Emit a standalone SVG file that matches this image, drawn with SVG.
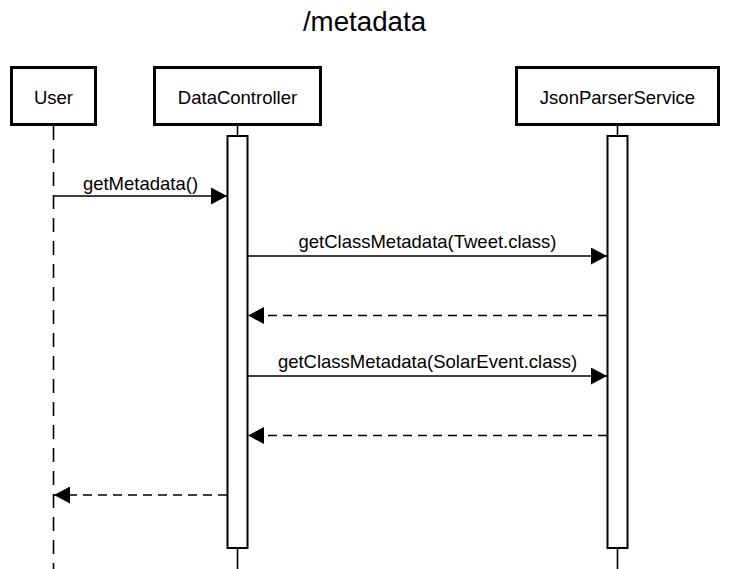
<svg xmlns="http://www.w3.org/2000/svg" width="729" height="569" viewBox="0 0 729 569">
<style>
  text { font-family: "Liberation Sans", Arial, sans-serif; fill: #000; }
  .title { font-size: 27.7px; text-anchor: middle; }
  .lbl { font-size: 18.5px; text-anchor: middle; }
  .box { fill: #fff; stroke: #000; stroke-width: 3; }
  .act { fill: #fff; stroke: #000; stroke-width: 2; }
  .life { stroke: #000; stroke-width: 1.6; fill: none; }
  .dash { stroke-dasharray: 14 9; }
  .msg { stroke: #000; stroke-width: 1.5; fill: none; marker-end: url(#arr); }
  .ret { stroke: #000; stroke-width: 1.5; fill: none; stroke-dasharray: 9 6; marker-end: url(#arr); }
</style>
<defs>
  <marker id="arr" viewBox="0 0 16 17" refX="16" refY="8.5" markerWidth="16" markerHeight="17" markerUnits="userSpaceOnUse" orient="auto">
    <path d="M0,0 L16,8.5 L0,17 Z" fill="#000"/>
  </marker>
</defs>
<rect width="729" height="569" fill="#fff"/>
<text class="title" x="364.5" y="31">/metadata</text>

<g id="lifelines">
  <line class="life dash" x1="53.5" y1="126" x2="53.5" y2="569"/>
  <line class="life" x1="237.5" y1="126" x2="237.5" y2="136"/>
  <line class="life" x1="237.5" y1="548" x2="237.5" y2="569"/>
  <line class="life" x1="617.5" y1="126" x2="617.5" y2="136"/>
  <line class="life" x1="617.5" y1="548" x2="617.5" y2="569"/>
</g>

<g id="User">
  <rect class="box" x="11.5" y="67.5" width="84" height="57"/>
  <text class="lbl" x="53.5" y="104">User</text>
</g>
<g id="DataController">
  <rect class="box" x="154.5" y="67.5" width="166" height="57"/>
  <text class="lbl" x="237.5" y="104">DataController</text>
  <rect class="act" x="227.5" y="136" width="20" height="412"/>
</g>
<g id="JsonParserService">
  <rect class="box" x="516.5" y="67.5" width="202" height="57"/>
  <text class="lbl" x="617.5" y="104">JsonParserService</text>
  <rect class="act" x="607.5" y="136" width="20" height="412"/>
</g>

<g id="connectors">
  <line class="msg" x1="54" y1="196" x2="227" y2="196"/>
  <text class="lbl" x="140.5" y="190">getMetadata()</text>
  <line class="msg" x1="248" y1="256" x2="607" y2="256"/>
  <text class="lbl" x="427.5" y="248">getClassMetadata(Tweet.class)</text>
  <line class="ret" x1="607" y1="315.5" x2="248" y2="315.5"/>
  <line class="msg" x1="248" y1="376" x2="607" y2="376"/>
  <text class="lbl" x="427.5" y="368">getClassMetadata(SolarEvent.class)</text>
  <line class="ret" x1="607" y1="435.5" x2="248" y2="435.5"/>
  <line class="ret" x1="227" y1="495" x2="54" y2="495"/>
</g>
</svg>
